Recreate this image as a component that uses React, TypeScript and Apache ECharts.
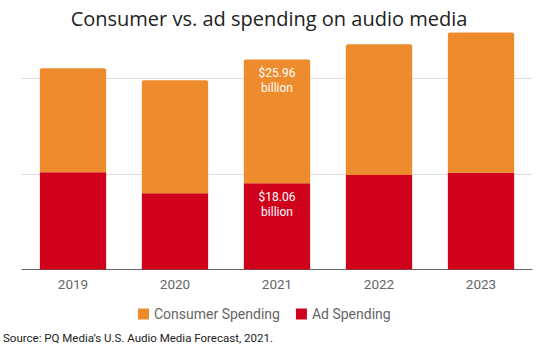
import React, { useEffect, useRef } from "react";
import * as echarts from "echarts";

const categories = ["2019", "2020", "2021", "2022", "2023"];
const adSpending = [20.4, 16.0, 18.06, 19.8, 20.3];
const consumerSpending = [21.8, 23.7, 25.96, 27.4, 29.4];
const labelledIndex = 2;

const ORANGE = "#EE8B2C";
const RED = "#D0021B";

function buildData(values: number[]) {
  return values.map((v, i) =>
    i === labelledIndex
      ? { value: v, label: { show: true } }
      : { value: v }
  );
}

export default function App() {
  const ref = useRef<HTMLDivElement>(null);
  useEffect(() => {
    document.body.style.margin = "0";
    const chart = echarts.init(ref.current!, null, { renderer: "svg" });
    const labelStyle = {
      show: false,
      position: "insideTop" as const,
      distance: 6,
      color: "#fff",
      fontSize: 12,
      fontFamily: "Roboto",
      lineHeight: 15,
      formatter: (p: any) => `$${Number(p.value).toFixed(2)}\nbillion`,
    };
    chart.setOption({
      animation: false,
      title: {
        text: "Consumer vs. ad spending on audio media",
        left: "center",
        top: 3,
        textStyle: {
          fontFamily: "Open Sans",
          fontWeight: "normal",
          fontSize: 20,
          color: "#222",
        },
      },
      grid: { left: 22, right: 6, top: 31, bottom: 83.5, containLabel: false },
      xAxis: {
        type: "category",
        data: categories,
        axisLine: { lineStyle: { color: "#666", width: 1 } },
        axisTick: { show: false },
        axisLabel: { color: "#666", fontSize: 13.5, fontFamily: "Roboto", margin: 7 },
      },
      yAxis: {
        type: "value",
        min: 0,
        max: 50,
        interval: 20,
        axisLabel: { show: false },
        axisLine: { show: false },
        axisTick: { show: false },
        splitLine: { showMaxLine: false, lineStyle: { color: "#ddd" } },
      },
      legend: {
        data: ["Consumer Spending", "Ad Spending"],
        left: 133,
        top: 302,
        icon: "rect",
        itemWidth: 11,
        itemHeight: 11,
        itemGap: 16,
        textStyle: { color: "#666", fontSize: 14, fontFamily: "Roboto" },
      },
      series: [
        {
          name: "Ad Spending",
          type: "bar",
          stack: "total",
          barCategoryGap: "35%",
          data: buildData(adSpending),
          itemStyle: { color: RED },
          label: labelStyle,
        },
        {
          name: "Consumer Spending",
          type: "bar",
          stack: "total",
          barCategoryGap: "35%",
          data: buildData(consumerSpending),
          itemStyle: { color: ORANGE, borderRadius: [2, 2, 0, 0] },
          label: labelStyle,
        },
      ],
      graphic: [
        {
          type: "text",
          left: 3,
          top: 332,
          style: {
            text: "Source: PQ Media\u2019s U.S. Audio Media Forecast, 2021.",
            fontSize: 11.5,
            fontFamily: "Roboto",
            fill: "#222",
          },
        },
      ],
    });
    return () => chart.dispose();
  }, []);
  return <div ref={ref} style={{ width: 538, height: 353 }} />;
}
